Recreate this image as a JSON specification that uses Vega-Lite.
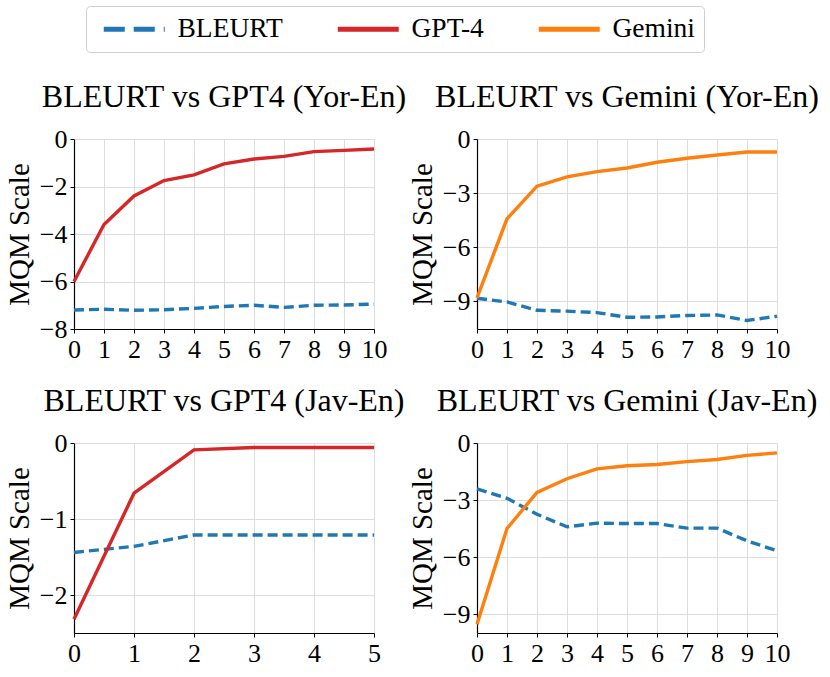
{
  "$schema": "https://vega.github.io/schema/vega-lite/v6.json",
  "padding": {"left": 5, "top": 5, "right": 5, "bottom": 5},
  "datasets": {
    "scores": [
      {"p": "p1", "m": "BLEURT", "k": 0, "v": -7.2},
      {"p": "p1", "m": "BLEURT", "k": 1, "v": -7.17},
      {"p": "p1", "m": "BLEURT", "k": 2, "v": -7.21},
      {"p": "p1", "m": "BLEURT", "k": 3, "v": -7.19},
      {"p": "p1", "m": "BLEURT", "k": 4, "v": -7.13},
      {"p": "p1", "m": "BLEURT", "k": 5, "v": -7.05},
      {"p": "p1", "m": "BLEURT", "k": 6, "v": -7.0},
      {"p": "p1", "m": "BLEURT", "k": 7, "v": -7.09},
      {"p": "p1", "m": "BLEURT", "k": 8, "v": -7.0},
      {"p": "p1", "m": "BLEURT", "k": 9, "v": -6.99},
      {"p": "p1", "m": "BLEURT", "k": 10, "v": -6.95},
      {"p": "p1", "m": "GPT-4", "k": 0, "v": -6.0},
      {"p": "p1", "m": "GPT-4", "k": 1, "v": -3.6},
      {"p": "p1", "m": "GPT-4", "k": 2, "v": -2.4},
      {"p": "p1", "m": "GPT-4", "k": 3, "v": -1.75},
      {"p": "p1", "m": "GPT-4", "k": 4, "v": -1.51},
      {"p": "p1", "m": "GPT-4", "k": 5, "v": -1.05},
      {"p": "p1", "m": "GPT-4", "k": 6, "v": -0.84},
      {"p": "p1", "m": "GPT-4", "k": 7, "v": -0.73},
      {"p": "p1", "m": "GPT-4", "k": 8, "v": -0.53},
      {"p": "p1", "m": "GPT-4", "k": 9, "v": -0.48},
      {"p": "p1", "m": "GPT-4", "k": 10, "v": -0.42},
      {"p": "p2", "m": "BLEURT", "k": 0, "v": -8.84},
      {"p": "p2", "m": "BLEURT", "k": 1, "v": -9.05},
      {"p": "p2", "m": "BLEURT", "k": 2, "v": -9.51},
      {"p": "p2", "m": "BLEURT", "k": 3, "v": -9.56},
      {"p": "p2", "m": "BLEURT", "k": 4, "v": -9.64},
      {"p": "p2", "m": "BLEURT", "k": 5, "v": -9.9},
      {"p": "p2", "m": "BLEURT", "k": 6, "v": -9.88},
      {"p": "p2", "m": "BLEURT", "k": 7, "v": -9.8},
      {"p": "p2", "m": "BLEURT", "k": 8, "v": -9.77},
      {"p": "p2", "m": "BLEURT", "k": 9, "v": -10.08},
      {"p": "p2", "m": "BLEURT", "k": 10, "v": -9.84},
      {"p": "p2", "m": "Gemini", "k": 0, "v": -8.82},
      {"p": "p2", "m": "Gemini", "k": 1, "v": -4.43},
      {"p": "p2", "m": "Gemini", "k": 2, "v": -2.62},
      {"p": "p2", "m": "Gemini", "k": 3, "v": -2.1},
      {"p": "p2", "m": "Gemini", "k": 4, "v": -1.81},
      {"p": "p2", "m": "Gemini", "k": 5, "v": -1.61},
      {"p": "p2", "m": "Gemini", "k": 6, "v": -1.29},
      {"p": "p2", "m": "Gemini", "k": 7, "v": -1.07},
      {"p": "p2", "m": "Gemini", "k": 8, "v": -0.89},
      {"p": "p2", "m": "Gemini", "k": 9, "v": -0.72},
      {"p": "p2", "m": "Gemini", "k": 10, "v": -0.72},
      {"p": "p3", "m": "BLEURT", "k": 0, "v": -1.44},
      {"p": "p3", "m": "BLEURT", "k": 1, "v": -1.36},
      {"p": "p3", "m": "BLEURT", "k": 2, "v": -1.21},
      {"p": "p3", "m": "BLEURT", "k": 3, "v": -1.21},
      {"p": "p3", "m": "BLEURT", "k": 4, "v": -1.21},
      {"p": "p3", "m": "BLEURT", "k": 5, "v": -1.21},
      {"p": "p3", "m": "GPT-4", "k": 0, "v": -2.32},
      {"p": "p3", "m": "GPT-4", "k": 1, "v": -0.66},
      {"p": "p3", "m": "GPT-4", "k": 2, "v": -0.09},
      {"p": "p3", "m": "GPT-4", "k": 3, "v": -0.06},
      {"p": "p3", "m": "GPT-4", "k": 4, "v": -0.06},
      {"p": "p3", "m": "GPT-4", "k": 5, "v": -0.06},
      {"p": "p4", "m": "BLEURT", "k": 0, "v": -2.42},
      {"p": "p4", "m": "BLEURT", "k": 1, "v": -2.91},
      {"p": "p4", "m": "BLEURT", "k": 2, "v": -3.75},
      {"p": "p4", "m": "BLEURT", "k": 3, "v": -4.41},
      {"p": "p4", "m": "BLEURT", "k": 4, "v": -4.22},
      {"p": "p4", "m": "BLEURT", "k": 5, "v": -4.24},
      {"p": "p4", "m": "BLEURT", "k": 6, "v": -4.24},
      {"p": "p4", "m": "BLEURT", "k": 7, "v": -4.48},
      {"p": "p4", "m": "BLEURT", "k": 8, "v": -4.48},
      {"p": "p4", "m": "BLEURT", "k": 9, "v": -5.15},
      {"p": "p4", "m": "BLEURT", "k": 10, "v": -5.67},
      {"p": "p4", "m": "Gemini", "k": 0, "v": -9.54},
      {"p": "p4", "m": "Gemini", "k": 1, "v": -4.5},
      {"p": "p4", "m": "Gemini", "k": 2, "v": -2.6},
      {"p": "p4", "m": "Gemini", "k": 3, "v": -1.88},
      {"p": "p4", "m": "Gemini", "k": 4, "v": -1.36},
      {"p": "p4", "m": "Gemini", "k": 5, "v": -1.2},
      {"p": "p4", "m": "Gemini", "k": 6, "v": -1.13},
      {"p": "p4", "m": "Gemini", "k": 7, "v": -0.98},
      {"p": "p4", "m": "Gemini", "k": 8, "v": -0.87},
      {"p": "p4", "m": "Gemini", "k": 9, "v": -0.65},
      {"p": "p4", "m": "Gemini", "k": 10, "v": -0.52}
    ]
  },
  "data": {"name": "scores"},
  "columns": 2,
  "spacing": {"row": 23, "column": 1},
  "concat": [
    {
      "title": "BLEURT vs GPT4 (Yor-En)",
      "width": 300,
      "height": 190,
      "transform": [{"filter": "datum.p == 'p1'"}],
      "encoding": {
        "x": {"field": "k", "type": "quantitative", "scale": {"domain": [0, 10], "nice": false},
              "axis": {"title": null, "values": [0, 1, 2, 3, 4, 5, 6, 7, 8, 9, 10]}},
        "y": {"field": "v", "type": "quantitative", "scale": {"domain": [-8, 0], "nice": false},
              "axis": {"title": "MQM Scale", "values": [-8, -6, -4, -2, 0]}},
        "color": {"field": "m", "type": "nominal", "title": null,
                  "scale": {"domain": ["BLEURT", "GPT-4", "Gemini"], "range": ["#1f77b4", "#d62728", "#ff7f0e"]},
                  "legend": {"encode": {"symbols": {"update": {"strokeDash": [{"test": "datum.value === 'BLEURT'", "value": [21, 9]}, {"value": [1, 0]}]}}}}}
      },
      "layer": [
        {"transform": [{"filter": "datum.m == 'BLEURT'"}],
         "mark": {"type": "line", "strokeWidth": 3.4, "strokeDash": [10, 5]}},
        {"transform": [{"filter": "datum.m != 'BLEURT'"}],
         "mark": {"type": "line", "strokeWidth": 3.4}}
      ]
    },
    {
      "title": "BLEURT vs Gemini (Yor-En)",
      "width": 300,
      "height": 190,
      "transform": [{"filter": "datum.p == 'p2'"}],
      "encoding": {
        "x": {"field": "k", "type": "quantitative", "scale": {"domain": [0, 10], "nice": false},
              "axis": {"title": null, "values": [0, 1, 2, 3, 4, 5, 6, 7, 8, 9, 10]}},
        "y": {"field": "v", "type": "quantitative", "scale": {"domain": [-10.55, 0], "nice": false},
              "axis": {"title": "MQM Scale", "values": [-9, -6, -3, 0]}},
        "color": {"field": "m", "type": "nominal", "title": null,
                  "scale": {"domain": ["BLEURT", "GPT-4", "Gemini"], "range": ["#1f77b4", "#d62728", "#ff7f0e"]},
                  "legend": {"encode": {"symbols": {"update": {"strokeDash": [{"test": "datum.value === 'BLEURT'", "value": [21, 9]}, {"value": [1, 0]}]}}}}}
      },
      "layer": [
        {"transform": [{"filter": "datum.m == 'BLEURT'"}],
         "mark": {"type": "line", "strokeWidth": 3.4, "strokeDash": [10, 5]}},
        {"transform": [{"filter": "datum.m != 'BLEURT'"}],
         "mark": {"type": "line", "strokeWidth": 3.4}}
      ]
    },
    {
      "title": "BLEURT vs GPT4 (Jav-En)",
      "width": 300,
      "height": 190,
      "transform": [{"filter": "datum.p == 'p3'"}],
      "encoding": {
        "x": {"field": "k", "type": "quantitative", "scale": {"domain": [0, 5], "nice": false},
              "axis": {"title": null, "values": [0, 1, 2, 3, 4, 5]}},
        "y": {"field": "v", "type": "quantitative", "scale": {"domain": [-2.5, 0], "nice": false},
              "axis": {"title": "MQM Scale", "values": [-2, -1, 0]}},
        "color": {"field": "m", "type": "nominal", "title": null,
                  "scale": {"domain": ["BLEURT", "GPT-4", "Gemini"], "range": ["#1f77b4", "#d62728", "#ff7f0e"]},
                  "legend": {"encode": {"symbols": {"update": {"strokeDash": [{"test": "datum.value === 'BLEURT'", "value": [21, 9]}, {"value": [1, 0]}]}}}}}
      },
      "layer": [
        {"transform": [{"filter": "datum.m == 'BLEURT'"}],
         "mark": {"type": "line", "strokeWidth": 3.4, "strokeDash": [10, 5]}},
        {"transform": [{"filter": "datum.m != 'BLEURT'"}],
         "mark": {"type": "line", "strokeWidth": 3.4}}
      ]
    },
    {
      "title": "BLEURT vs Gemini (Jav-En)",
      "width": 300,
      "height": 190,
      "transform": [{"filter": "datum.p == 'p4'"}],
      "encoding": {
        "x": {"field": "k", "type": "quantitative", "scale": {"domain": [0, 10], "nice": false},
              "axis": {"title": null, "values": [0, 1, 2, 3, 4, 5, 6, 7, 8, 9, 10]}},
        "y": {"field": "v", "type": "quantitative", "scale": {"domain": [-10, 0], "nice": false},
              "axis": {"title": "MQM Scale", "values": [-9, -6, -3, 0]}},
        "color": {"field": "m", "type": "nominal", "title": null,
                  "scale": {"domain": ["BLEURT", "GPT-4", "Gemini"], "range": ["#1f77b4", "#d62728", "#ff7f0e"]},
                  "legend": {"encode": {"symbols": {"update": {"strokeDash": [{"test": "datum.value === 'BLEURT'", "value": [21, 9]}, {"value": [1, 0]}]}}}}}
      },
      "layer": [
        {"transform": [{"filter": "datum.m == 'BLEURT'"}],
         "mark": {"type": "line", "strokeWidth": 3.4, "strokeDash": [10, 5]}},
        {"transform": [{"filter": "datum.m != 'BLEURT'"}],
         "mark": {"type": "line", "strokeWidth": 3.4}}
      ]
    }
  ],
  "resolve": {"scale": {"color": "shared"}},
  "config": {
    "font": "Liberation Serif",
    "view": {"stroke": null},
    "title": {"font": "Liberation Serif", "fontSize": 32, "fontWeight": "normal", "color": "black", "offset": 12},
    "axis": {
      "labelFont": "Liberation Serif",
      "labelFontSize": 26,
      "labelColor": "black",
      "labelPadding": 3,
      "titleFont": "Liberation Serif",
      "titleFontSize": 29,
      "titleFontWeight": "normal",
      "titleColor": "black",
      "titlePadding": 5,
      "domainColor": "black",
      "domainWidth": 1.2,
      "tickColor": "black",
      "tickSize": 4,
      "gridColor": "#dddddd",
      "gridWidth": 1,
      "labelFlush": false,
      "labelOverlap": false
    },
    "legend": {
      "orient": "none",
      "legendX": 12,
      "legendY": -133,
      "direction": "horizontal",
      "symbolType": "M-1,0H11.2",
      "symbolSize": 100,
      "symbolStrokeWidth": 5,
      "labelFont": "Liberation Serif",
      "labelFontSize": 27.5,
      "labelColor": "black",
      "labelOffset": 55,
      "columnPadding": 44,
      "padding": 9,
      "strokeColor": "#d0d0d0",
      "cornerRadius": 4
    }
  }
}
